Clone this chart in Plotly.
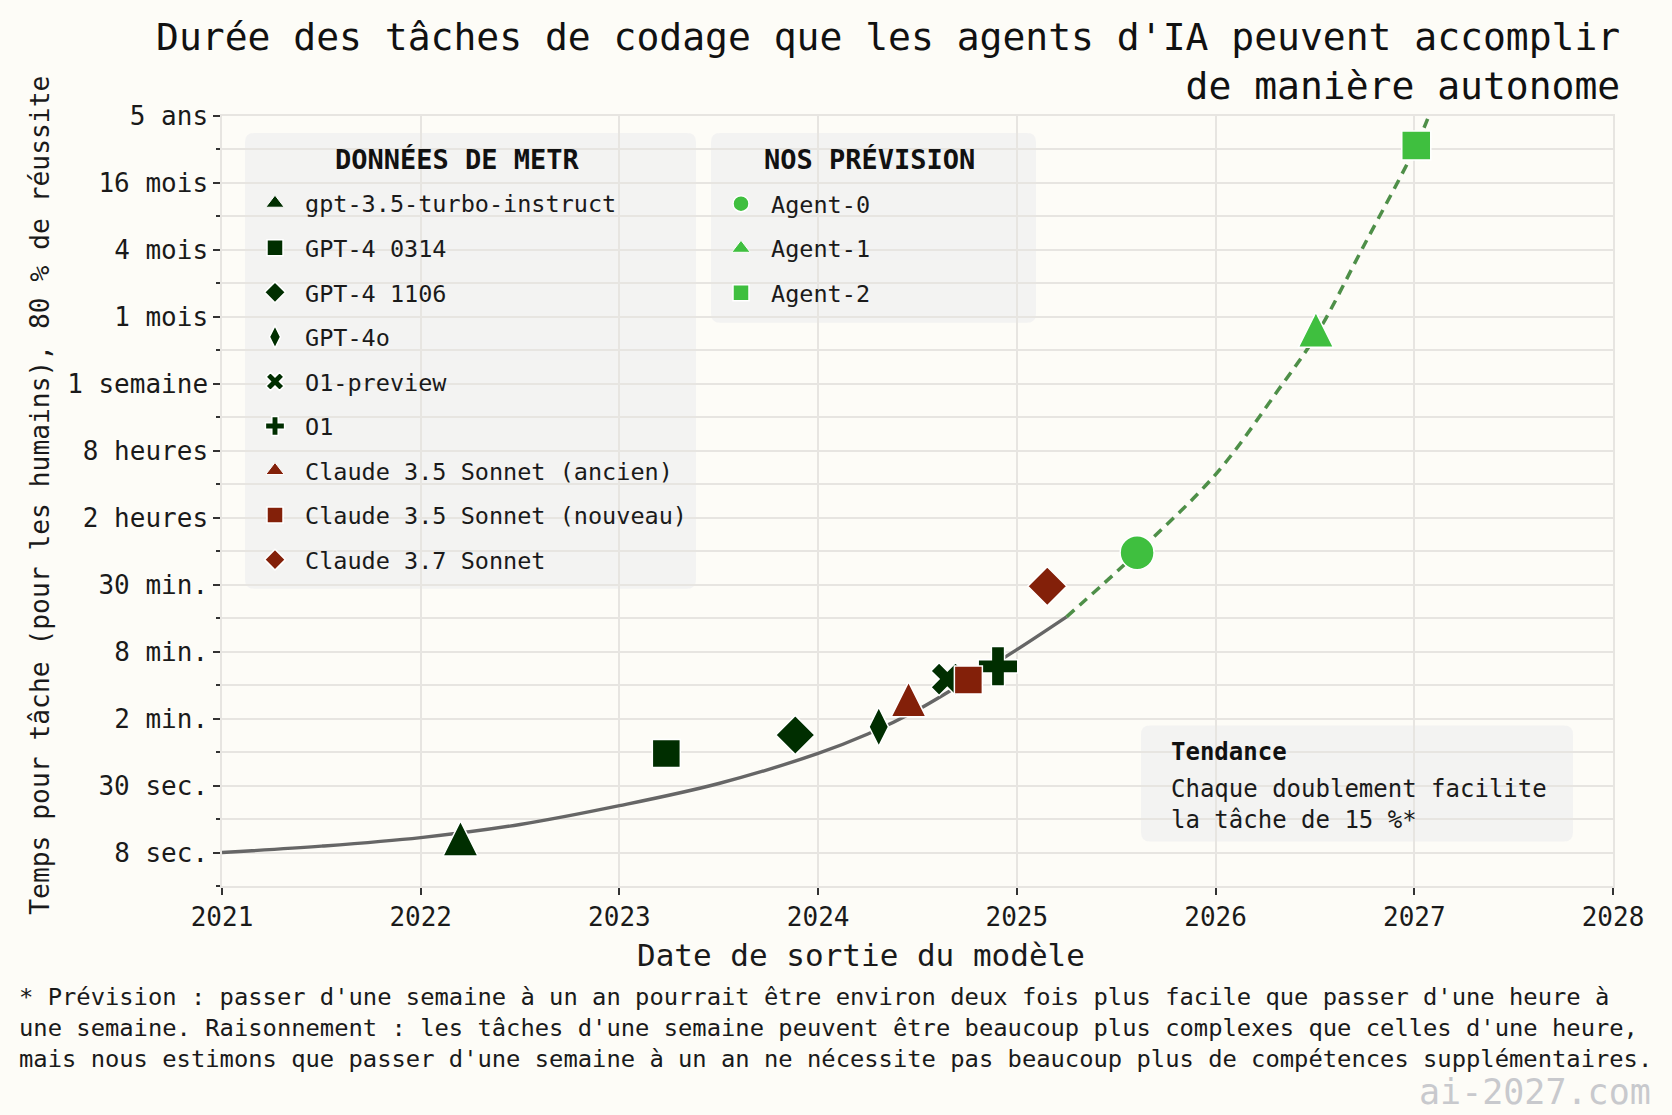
import plotly.graph_objects as go

# ---------------- data ----------------
metr_models = ["gpt-3.5-turbo-instruct", "GPT-4 0314", "GPT-4 1106", "GPT-4o", "O1-preview", "O1",
               "Claude 3.5 Sonnet (ancien)", "Claude 3.5 Sonnet (nouveau)", "Claude 3.7 Sonnet"]
metr_dates = [2022.20, 2023.236, 2023.885, 2024.305, 2024.65, 2024.905, 2024.455, 2024.756, 2025.153]
metr_seconds = [9.5, 62, 91, 108, 290, 378, 169, 285, 1980]
metr_symbols = ["triangle", "square", "diamond", "diamond-tall", "x", "cross", "triangle", "square", "diamond"]
metr_makers = ["openai"] * 6 + ["anthropic"] * 3

agents = ["Agent-0", "Agent-1", "Agent-2"]
agent_dates = [2025.605, 2026.505, 2027.01]
agent_seconds = [3970, 356000, 18250000]
agent_symbols = ["circle", "triangle", "square"]

trend_dates = [2021.0, 2021.5, 2022.0, 2022.5, 2023.0, 2023.5, 2024.0, 2024.25, 2024.5, 2024.75, 2025.0, 2025.25]
trend_seconds = [8.0, 9.13, 10.9, 14.3, 21.1, 33.4, 62.3, 93.0, 153, 282, 534, 1053]
proj_dates = [2025.25, 2025.605, 2026.006, 2026.316, 2026.505, 2026.744, 2027.01, 2027.088]
proj_seconds = [1053, 3970, 20660, 115800, 356000, 2251000, 18250000, 39400000]

y_tick_seconds = [8, 32, 128, 512, 2048, 8192, 32768, 131072, 524288, 2097152, 8388608, 33554432]
y_tick_labels = ["8 sec.", "30 sec.", "2 min.", "8 min.", "30 min.", "2 heures", "8 heures",
                 "1 semaine", "1 mois", "4 mois", "16 mois", "5 ans"]
y_minor_seconds = [4, 16, 64, 256, 1024, 4096, 16384, 65536, 262144, 1048576, 4194304, 16777216]
x_years = [2021, 2022, 2023, 2024, 2025, 2026, 2027, 2028]

# ---------------- styling ----------------
FONT = "DejaVu Sans Mono"
BG = "#fdfcf7"
GRID = "#e7e5e1"
INK = "#1a1a1a"
COLORS = {"openai": "#002e00", "anthropic": "#832009"}
AGENT_COLOR = "#3fbf3f"
SIZES = {"triangle": 35, "square": 28, "diamond": 30, "diamond-tall": 28, "x": 29, "cross": 33, "circle": 34}

W, H = 1672, 1115
ML, MR, MT, MB = 222, 59, 116, 228.5
PW, PH = W - ML - MR, H - MT - MB


def px(X):
    return (X - ML) / PW


def py(Y):
    return (H - MB - Y) / PH


def rounded_box(x0, y0, x1, y1, r=9):
    a, b, c, d = px(x0), px(x1), py(y0), py(y1)
    rx, ry = r / PW, r / PH
    return (f"M{a+rx},{c} L{b-rx},{c} Q{b},{c} {b},{c-ry} L{b},{d+ry} Q{b},{d} {b-rx},{d} "
            f"L{a+rx},{d} Q{a},{d} {a},{d+ry} L{a},{c-ry} Q{a},{c} {a+rx},{c} Z")


def marker_style(sym, size, color):
    # tall triangles: an arrow shape turned upright, pushed so its centroid sits on the value
    if sym == "triangle":
        return dict(symbol="arrow-down", angle=180, standoff=size * 2 / 3, size=size, color=color,
                    line=dict(color="white", width=1.5))
    return dict(symbol=sym, size=size, color=color, line=dict(color="white", width=1.5))


def add_point(name, d, s, sym, size, color, legend):
    if sym == "triangle":
        # legend entry with a plain triangle (the shifted arrow would be misplaced in the legend)
        fig.add_trace(go.Scatter(x=[None], y=[None], mode="markers", name=name, legend=legend,
                                 legendgroup=name, marker=dict(symbol="triangle-up", size=size, color=color,
                                                               line=dict(color="white", width=1))))
        fig.add_trace(go.Scatter(x=[d], y=[s], mode="markers", name=name, legend=legend, legendgroup=name,
                                 showlegend=False, marker=marker_style(sym, size, color)))
    else:
        fig.add_trace(go.Scatter(x=[d], y=[s], mode="markers", name=name, legend=legend, legendgroup=name,
                                 marker=marker_style(sym, size, color)))


fig = go.Figure()

# trend lines
fig.add_trace(go.Scatter(x=trend_dates, y=trend_seconds, mode="lines", showlegend=False,
                         line=dict(color="#666666", width=3.4, shape="spline"), hoverinfo="skip"))
fig.add_trace(go.Scatter(x=proj_dates, y=proj_seconds, mode="lines", showlegend=False,
                         line=dict(color="#4e8f48", width=3.5, dash="10px,7px", shape="spline"),
                         hoverinfo="skip"))

for name, d, s, sym, mk in zip(metr_models, metr_dates, metr_seconds, metr_symbols, metr_makers):
    add_point(name, d, s, sym, SIZES[sym], COLORS[mk], "legend")

for name, d, s, sym in zip(agents, agent_dates, agent_seconds, agent_symbols):
    add_point(name, d, s, sym, 29 if sym == "square" else SIZES[sym], AGENT_COLOR, "legend2")

legend_common = dict(bgcolor="rgba(0,0,0,0)", borderwidth=0, font=dict(family=FONT, size=23.5, color=INK),
                     itemwidth=50, tracegroupgap=11, xanchor="left", yanchor="top", itemsizing="trace")

annotations = [
    dict(text="Durée des tâches de codage que les agents d'IA peuvent accomplir<br>de manière autonome",
         x=px(1622), y=py(61), xanchor="right", yanchor="middle", align="right",
         font=dict(family=FONT, size=38, color="#111111")),
    dict(text="Temps pour tâche (pour les humains), 80\u202f% de réussite", textangle=-90,
         x=px(40), y=py(496), xanchor="center", yanchor="middle", font=dict(family=FONT, size=26.3, color=INK)),
    dict(text="Date de sortie du modèle", x=px(860.5), y=py(956), xanchor="center", yanchor="middle",
         font=dict(family=FONT, size=31, color=INK)),
    dict(text=("*\u202fPrévision\u202f: passer d'une semaine à un an pourrait être environ deux fois plus facile que passer d'une heure à<br>"
               "une semaine. Raisonnement\u202f: les tâches d'une semaine peuvent être beaucoup plus complexes que celles d'une heure,<br>"
               "mais nous estimons que passer d'une semaine à un an ne nécessite pas beaucoup plus de compétences supplémentaires."),
         x=px(17), y=py(1029), xanchor="left", yanchor="middle", align="left",
         font=dict(family=FONT, size=23.8, color=INK)),
    dict(text="ai-2027.com", x=px(1653), y=py(1093), xanchor="right", yanchor="middle",
         font=dict(family=FONT, size=35, color="#c8c9cd")),
    dict(text="<b>DONNÉES DE METR</b>", x=px(457), y=py(160), xanchor="center", yanchor="middle",
         font=dict(family=FONT, size=27, color="#111111")),
    dict(text="<b>NOS PRÉVISION</b>", x=px(869.6), y=py(160), xanchor="center", yanchor="middle",
         font=dict(family=FONT, size=27, color="#111111")),
    dict(text="<b>Tendance</b>", x=px(1169), y=py(752), xanchor="left", yanchor="middle", align="left",
         font=dict(family=FONT, size=24, color="#111111")),
    dict(text="Chaque doublement facilite<br>la tâche de 15\u202f%*", x=px(1169), y=py(805),
         xanchor="left", yanchor="middle", align="left", font=dict(family=FONT, size=24, color=INK)),
]
for a in annotations:
    a.update(xref="paper", yref="paper", showarrow=False)

box_fill = "rgba(241,241,241,0.88)"
shapes = [
    dict(type="path", path=rounded_box(245, 133, 696, 589), fillcolor=box_fill, line=dict(width=0)),
    dict(type="path", path=rounded_box(711, 133, 1036, 323), fillcolor=box_fill, line=dict(width=0)),
    dict(type="path", path=rounded_box(1141, 726, 1573, 842), fillcolor=box_fill, line=dict(width=0)),
]
for s in shapes:
    s.update(xref="paper", yref="paper", layer="between")

fig.update_layout(
    width=W, height=H, margin=dict(l=ML, r=MR, t=MT, b=MB, pad=0),
    paper_bgcolor=BG, plot_bgcolor=BG,
    font=dict(family=FONT, color=INK),
    showlegend=True,
    legend=dict(x=px(245), y=py(181.5), **legend_common),
    legend2=dict(x=px(711), y=py(182), **legend_common),
    annotations=annotations, shapes=shapes,
    xaxis=dict(range=[2021, 2028], tickmode="array", tickvals=x_years, ticktext=[str(v) for v in x_years],
               showgrid=True, gridcolor=GRID, gridwidth=1.5, zeroline=False,
               showline=True, linecolor=GRID, linewidth=1.5, mirror=True,
               ticks="outside", ticklen=7, tickwidth=1.5, tickcolor="#333333", ticklabelstandoff=0,
               tickfont=dict(family=FONT, size=26, color=INK)),
    yaxis=dict(type="log", range=[0.60206, 7.525783], tickmode="array", tickvals=y_tick_seconds,
               ticktext=y_tick_labels, showgrid=True, gridcolor=GRID, gridwidth=1.5, zeroline=False,
               showline=True, linecolor=GRID, linewidth=1.5, mirror=True,
               ticks="outside", ticklen=7, tickwidth=1.5, tickcolor="#333333", ticklabelstandoff=0,
               tickfont=dict(family=FONT, size=26, color=INK),
               minor=dict(tickmode="array", tickvals=y_minor_seconds, ticks="outside", ticklen=4,
                          tickwidth=1.5, tickcolor="#333333", showgrid=True, gridcolor=GRID, gridwidth=1.5)),
)

fig.write_html("out.html", config={"displayModeBar": False},
               post_script="document.body.style.margin='0';document.body.style.overflow='hidden';")
